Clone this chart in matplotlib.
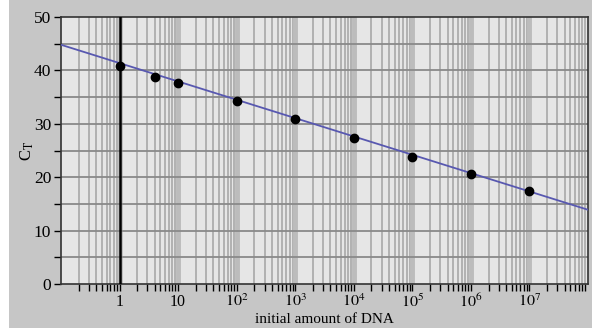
import matplotlib
matplotlib.use("Agg")
import matplotlib.pyplot as plt
import matplotlib.ticker as mticker
from matplotlib.patches import Rectangle
import numpy as np

# data
dna_amount = [1, 4, 10, 1e2, 1e3, 1e4, 1e5, 1e6, 1e7]
ct_values = [40.8, 38.8, 37.6, 34.3, 30.9, 27.3, 23.8, 20.6, 17.4]
fit_x = [0.1, 1e8]
fit_y = [44.8, 13.9]
xtick_vals = [1, 10, 1e2, 1e3, 1e4, 1e5, 1e6, 1e7]
xtick_labels = ["1", "10", "$10^2$", "$10^3$", "$10^4$", "$10^5$", "$10^6$", "$10^7$"]
ytick_vals = [0, 10, 20, 30, 40, 50]

plt.rcParams['font.family'] = ['Liberation Serif', 'DejaVu Serif']
plt.rcParams['mathtext.fontset'] = 'stix'

fig = plt.figure(figsize=(5.92, 3.33), dpi=100, facecolor='white')
fig.patches.append(Rectangle((9/592, 5/333), 1 - 9/592, 1 - 5/333,
                             transform=fig.transFigure, facecolor='#c6c6c6',
                             edgecolor='none', zorder=-10))
ax = fig.add_axes([61/592, 49/333, 527/592, 267/333])
ax.set_facecolor('#e6e6e6')
ax.set_xscale('log')
ax.set_xlim(0.1, 1e8)
ax.set_ylim(0, 50)

# grid
for d in range(-1, 8):
    for m in range(2, 10):
        ax.axvline(m * 10.0**d, color='#a8a8a8', lw=1.2, zorder=1)
    if d >= 0:
        ax.axvline(10.0**d, color='#bcbcbc', lw=3.5, zorder=1)
for yv in range(5, 50, 5):
    ax.axhline(yv, color='#8a8a8a', lw=1.3, zorder=2)
ax.axvline(1, color='black', lw=1.8, zorder=3)

ax.plot(fit_x, fit_y, color='#5858b0', lw=1.3, zorder=4)
ax.plot(dna_amount, ct_values, 'o', color='black', ms=6, zorder=5)

ax.xaxis.set_major_locator(mticker.FixedLocator(xtick_vals))
ax.xaxis.set_major_formatter(mticker.FixedFormatter(xtick_labels))
ax.xaxis.set_minor_locator(mticker.LogLocator(base=10, subs=np.arange(2, 10), numticks=20))
ax.xaxis.set_minor_formatter(mticker.NullFormatter())
ax.set_yticks(ytick_vals)
ax.yaxis.set_minor_locator(mticker.MultipleLocator(5))
ax.tick_params(axis='x', which='both', direction='out', length=5, width=1, pad=2,
               labelsize=11.5)
ax.tick_params(axis='y', which='both', direction='out', length=5, width=1, pad=2,
               labelsize=12.5)
for s in ax.spines.values():
    s.set_color('#333333')
    s.set_linewidth(1.2)

ax.set_xlabel('initial amount of DNA', fontsize=11)
ax.xaxis.set_label_coords(0.5, -0.11)
ax.set_ylabel('C$_\\mathrm{T}$', fontsize=12)
ax.yaxis.set_label_coords(-0.048, 0.5)

fig.savefig('out.png', dpi=100, facecolor=fig.get_facecolor())
